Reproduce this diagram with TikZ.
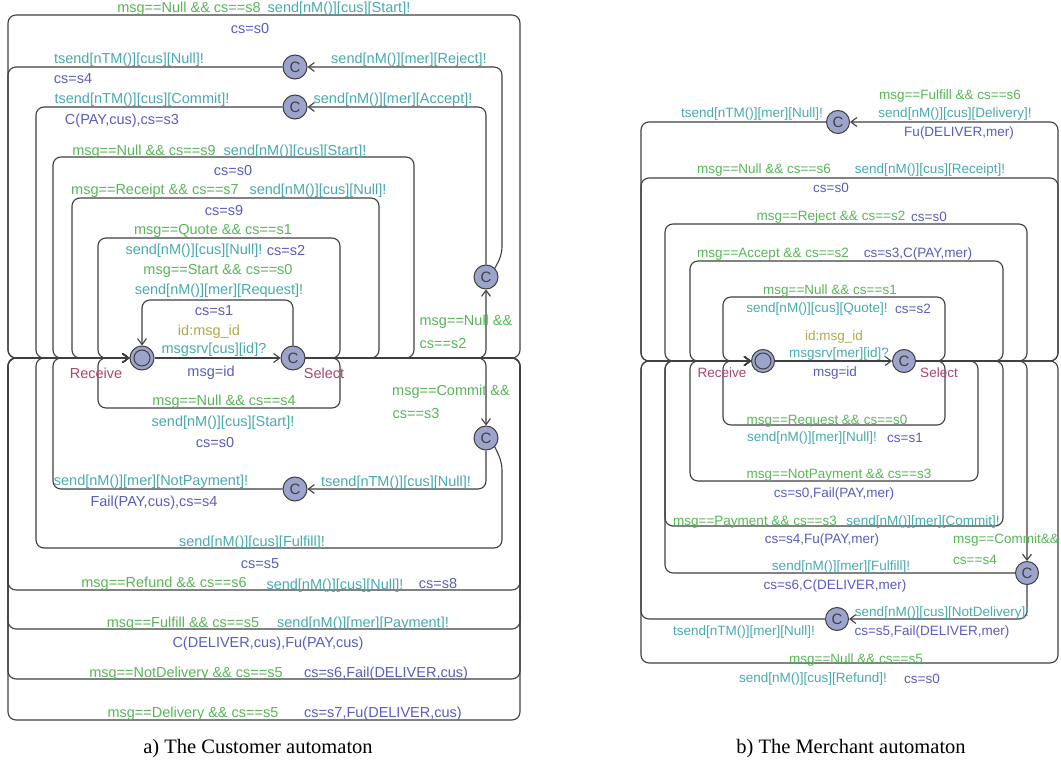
\documentclass[tikz,border=0pt]{standalone}
\usepackage{fontspec}
\setmainfont{Liberation Serif}
\setsansfont{Liberation Sans}
\usetikzlibrary{arrows.meta}

\definecolor{guardc}{RGB}{88,182,88}
\definecolor{syncc}{RGB}{72,170,176}
\definecolor{assignc}{RGB}{92,92,192}
\definecolor{selc}{RGB}{176,170,72}
\definecolor{namec}{RGB}{168,72,112}
\definecolor{locfill}{RGB}{156,164,204}
\definecolor{linec}{RGB}{64,64,64}

\tikzset{
  loc/.style={circle, draw=linec, line width=1pt, fill=locfill, minimum size=24pt,
    inner sep=0pt, text=linec, font=\sffamily\fontsize{15}{15}\selectfont},
  initloc/.style={loc, path picture={\draw[linec, line width=1pt]
    (path picture bounding box.center) circle (8pt);}},
  trans/.style={draw=linec, line width=1.1pt, rounded corners=8pt},
  lbl/.style={font=\sffamily\fontsize{14.5}{16}\selectfont, inner sep=0pt},
  guardlbl/.style={lbl, text=guardc},
  synclbl/.style={lbl, text=syncc},
  assignlbl/.style={lbl, text=assignc},
  selectlbl/.style={lbl, text=selc},
  namelbl/.style={lbl, text=namec},
  captionlbl/.style={font=\fontsize{20.5}{24}\selectfont, inner sep=0pt},
}

\begin{document}
\begin{tikzpicture}[x=1pt, y=-1pt, >={Straight Barb[length=6pt,width=9pt]}]
  \fill[white] (0,0) rectangle (1061,765);
  \useasboundingbox (0,0) rectangle (1061,765);

  % ---------------- customer ----------------
  \node[initloc] (cRec) at (142,358) {};
  \node[loc] (cSel) at (293,358) {C};
  \node[loc] (cAns) at (486,277) {C};
  \node[loc] (cRej) at (295,67) {C};
  \node[loc] (cAcc) at (295,107) {C};
  \node[loc] (cCom) at (486,438) {C};
  \node[loc] (cNoPay) at (295,489) {C};

  \draw[trans,->] (cRec) -- (cSel);
  % loops Select -> Receive
  \draw[trans,->] (cSel.north) |- (142,300) -- (cRec.north);
  \draw[trans,->] (cSel.east) -| (340,238) -| (98,358) -- (cRec.west);
  \draw[trans,->] (cSel.east) -| (340,408) -| (98,358) -- (cRec.west);
  \draw[trans,->] (cSel.east) -| (379,198) -| (72,358) -- (cRec.west);
  \draw[trans,->] (cSel.east) -| (414,157) -| (53,358) -- (cRec.west);
  \draw[trans,->] (cSel.east) -| (520,15) -| (8,358) -- (cRec.west);
  \draw[trans,->] (cSel.east) -| (520,590) -| (8,358) -- (cRec.west);
  \draw[trans,->] (cSel.east) -| (520,629) -| (8,358) -- (cRec.west);
  \draw[trans,->] (cSel.east) -| (520,679) -| (8,358) -- (cRec.west);
  \draw[trans,->] (cSel.east) -| (520,720) -| (8,358) -- (cRec.west);
  % quote answer
  \draw[trans,->] (cSel.east) -| (cAns.south);
  \draw[trans,->] (cAns.north east) -- (502,255) |- (cRej.east);
  \draw[trans,->] (cAns.north) |- (cAcc.east);
  \draw[trans,->] (cRej.west) -| (8,358) -- (cRec.west);
  \draw[trans,->] (cAcc.west) -| (36,358) -- (cRec.west);
  % commit
  \draw[trans,->] (cSel.east) -| (cCom.north);
  \draw[trans,->] (cCom.south) |- (cNoPay.east);
  \draw[trans,->] (cNoPay.west) -| (53,358) -- (cRec.west);
  \draw[trans,->] (cCom.south east) -- (502,462) |- (36,548) -- (36,358) -- (cRec.west);

  \node[guardlbl] (cg1) at (189,9) {msg==Null \&\& cs==s8};
  \node[synclbl] (cs1) at (339,9) {send[nM()][cus][Start]!};
  \node[assignlbl] (ca1) at (250,29) {cs=s0};
  \node[synclbl] (cs2) at (129,60) {tsend[nTM()][cus][Null]!};
  \node[synclbl] (cs3) at (409,60) {send[nM()][mer][Reject]!};
  \node[assignlbl] (ca2) at (73,79) {cs=s4};
  \node[synclbl] (cs4) at (142,100) {tsend[nTM()][cus][Commit]!};
  \node[synclbl] (cs5) at (393,100) {send[nM()][mer][Accept]!};
  \node[assignlbl] (ca3) at (122,121) {C(PAY,cus),cs=s3};
  \node[guardlbl] (cg2) at (144,152) {msg==Null \&\& cs==s9};
  \node[synclbl] (cs6) at (295,152) {send[nM()][cus][Start]!};
  \node[assignlbl] (ca4) at (233,171) {cs=s0};
  \node[guardlbl] (cg3) at (155,191) {msg==Receipt \&\& cs==s7};
  \node[synclbl] (cs7) at (318,191) {send[nM()][cus][Null]!};
  \node[assignlbl] (ca5) at (224,211) {cs=s9};
  \node[guardlbl] (cg4) at (213,231) {msg==Quote \&\& cs==s1};
  \node[synclbl] (cs8) at (194,251) {send[nM()][cus][Null]!};
  \node[assignlbl] (ca6) at (286,251) {cs=s2};
  \node[guardlbl] (cg5) at (218,271) {msg==Start \&\& cs==s0};
  \node[synclbl] (cs9) at (219,291) {send[nM()][mer][Request]!};
  \node[assignlbl] (ca7) at (214,311) {cs=s1};
  \node[selectlbl] (csel) at (209,332) {id:msg\_id};
  \node[synclbl] (cs10) at (214,350) {msgsrv[cus][id]?};
  \node[guardlbl] (cg6) at (466,322) {msg==Null \&\&};
  \node[guardlbl] (cg7) at (443,344) {cs==s2};
  \node[namelbl] (cn1) at (96,373) {Receive};
  \node[assignlbl] (ca8) at (211,373) {msg=id};
  \node[namelbl] (cn2) at (324,373) {Select};
  \node[guardlbl] (cg8) at (451,392) {msg==Commit \&\&};
  \node[guardlbl] (cg9) at (416,414) {cs==s3};
  \node[guardlbl] (cg10) at (224,402) {msg==Null \&\& cs==s4};
  \node[synclbl] (cs11) at (223,423) {send[nM()][cus][Start]!};
  \node[assignlbl] (ca9) at (215,443) {cs=s0};
  \node[synclbl] (cs12) at (151,482) {send[nM()][mer][NotPayment]!};
  \node[synclbl] (cs13) at (396,483) {tsend[nTM()][cus][Null]!};
  \node[assignlbl] (ca10) at (154,503) {Fail(PAY,cus),cs=s4};
  \node[synclbl] (cs14) at (252,543) {send[nM()][cus][Fulfill]!};
  \node[assignlbl] (ca11) at (260,564) {cs=s5};
  \node[guardlbl] (cg11) at (164,584) {msg==Refund \&\& cs==s6};
  \node[synclbl] (cs15) at (335,586) {send[nM()][cus][Null]!};
  \node[assignlbl] (ca12) at (438,584) {cs=s8};
  \node[guardlbl] (cg12) at (183,624) {msg==Fulfill \&\& cs==s5};
  \node[synclbl] (cs16) at (363,624) {send[nM()][mer][Payment]!};
  \node[assignlbl] (ca13) at (268,644) {C(DELIVER,cus),Fu(PAY,cus)};
  \node[guardlbl] (cg13) at (186,674) {msg==NotDelivery \&\& cs==s5};
  \node[assignlbl] (ca14) at (386,674) {cs=s6,Fail(DELIVER,cus)};
  \node[guardlbl] (cg14) at (193,714) {msg==Delivery \&\& cs==s5};
  \node[assignlbl] (ca15) at (383,714) {cs=s7,Fu(DELIVER,cus)};
  \node[captionlbl] (ccap) at (258,749) {a) The Customer automaton};

  % ---------------- merchant ----------------
  \begin{scope}[lbl/.style={font=\sffamily\fontsize{13.5}{15}\selectfont, inner sep=0pt},
      loc/.append style={minimum size=23pt}]
  \node[initloc] (mRec) at (763,361) {};
  \node[loc] (mSel) at (904,361) {C};
  \node[loc] (mDel) at (838,122) {C};
  \node[loc] (mCom) at (1027,573) {C};
  \node[loc] (mNoDel) at (837,619) {C};

  \draw[trans,->] (mRec) -- (mSel);
  \draw[trans,->] (mSel.east) -| (945,297) -| (723,361) -- (mRec.west);
  \draw[trans,->] (mSel.east) -| (945,425) -| (723,361) -- (mRec.west);
  \draw[trans,->] (mSel.east) -| (1003,261) -| (690,361) -- (mRec.west);
  \draw[trans,->] (mSel.east) -| (978,481) -| (690,361) -- (mRec.west);
  \draw[trans,->] (mSel.east) -| (1027,224) -| (665,361) -- (mRec.west);
  \draw[trans,->] (mSel.east) -| (1003,526) -| (665,361) -- (mRec.west);
  \draw[trans,->] (mSel.east) -| (1058,178) -| (641,361) -- (mRec.west);
  \draw[trans,->] (mSel.east) -| (1058,663) -| (641,361) -- (mRec.west);
  % delivery
  \draw[trans,->] (mSel.east) -| (1058,122) -- (mDel.east);
  \draw[trans,->] (mDel.west) -| (641,361) -- (mRec.west);
  % commit
  \draw[trans,->] (mSel.east) -| (mCom.north);
  \draw[trans,->] (mCom.west) -| (665,361) -- (mRec.west);
  \draw[trans,->] (mCom.south) |- (mNoDel.east);
  \draw[trans,->] (mNoDel.west) -| (641,361) -- (mRec.west);

  \node[guardlbl] (mg1) at (950,96) {msg==Fulfill \&\& cs==s6};
  \node[synclbl] (ms1) at (752,114) {tsend[nTM()][mer][Null]!};
  \node[synclbl] (ms2) at (955,114) {send[nM()][cus][Delivery]!};
  \node[assignlbl] (ma1) at (959,133) {Fu(DELIVER,mer)};
  \node[guardlbl] (mg2) at (764,170) {msg==Null \&\& cs==s6};
  \node[synclbl] (ms3) at (930,170) {send[nM()][cus][Receipt]!};
  \node[assignlbl] (ma2) at (831,188) {cs=s0};
  \node[guardlbl] (mg3) at (831,217) {msg==Reject \&\& cs==s2};
  \node[assignlbl] (ma3) at (929,217) {cs=s0};
  \node[guardlbl] (mg4) at (773,254) {msg==Accept \&\& cs==s2};
  \node[assignlbl] (ma4) at (918,254) {cs=s3,C(PAY,mer)};
  \node[guardlbl] (mg5) at (830,291) {msg==Null \&\& cs==s1};
  \node[synclbl] (ms4) at (817,309) {send[nM()][cus][Quote]!};
  \node[assignlbl] (ma5) at (913,309) {cs=s2};
  \node[selectlbl] (msel) at (834,337) {id:msg\_id};
  \node[synclbl] (ms5) at (839,354) {msgsrv[mer][id]?};
  \node[namelbl] (mn1) at (722,373) {Receive};
  \node[assignlbl] (ma6) at (835,373) {msg=id};
  \node[namelbl] (mn2) at (939,373) {Select};
  \node[guardlbl] (mg6) at (827,421) {msg==Request \&\& cs==s0};
  \node[synclbl] (ms6) at (812,438) {send[nM()][mer][Null]!};
  \node[assignlbl] (ma7) at (905,438) {cs=s1};
  \node[guardlbl] (mg7) at (839,475) {msg==NotPayment \&\& cs==s3};
  \node[assignlbl] (ma8) at (834,494) {cs=s0,Fail(PAY,mer)};
  \node[guardlbl] (mg8) at (755,522) {msg==Payment \&\& cs==s3};
  \node[synclbl] (ms7) at (923,522) {send[nM()][mer][Commit]!};
  \node[assignlbl] (ma9) at (822,540) {cs=s4,Fu(PAY,mer)};
  \node[guardlbl] (mg9) at (1006,540) {msg==Commit\&\&};
  \node[guardlbl] (mg10) at (975,560) {cs==s4};
  \node[synclbl] (ms8) at (841,567) {send[nM()][mer][Fulfill]!};
  \node[assignlbl] (ma10) at (835,586) {cs=s6,C(DELIVER,mer)};
  \node[synclbl] (ms9) at (942,613) {send[nM()][cus][NotDelivery]!};
  \node[assignlbl] (ma11) at (932,632) {cs=s5,Fail(DELIVER,mer)};
  \node[synclbl] (ms10) at (744,632) {tsend[nTM()][mer][Null]!};
  \node[guardlbl] (mg11) at (856,660) {msg==Null \&\& cs==s5};
  \node[synclbl] (ms11) at (813,679) {send[nM()][cus][Refund]!};
  \node[assignlbl] (ma12) at (922,679) {cs=s0};
  \end{scope}
  \node[captionlbl] (mcap) at (851,749) {b) The Merchant automaton};
\end{tikzpicture}
\end{document}
